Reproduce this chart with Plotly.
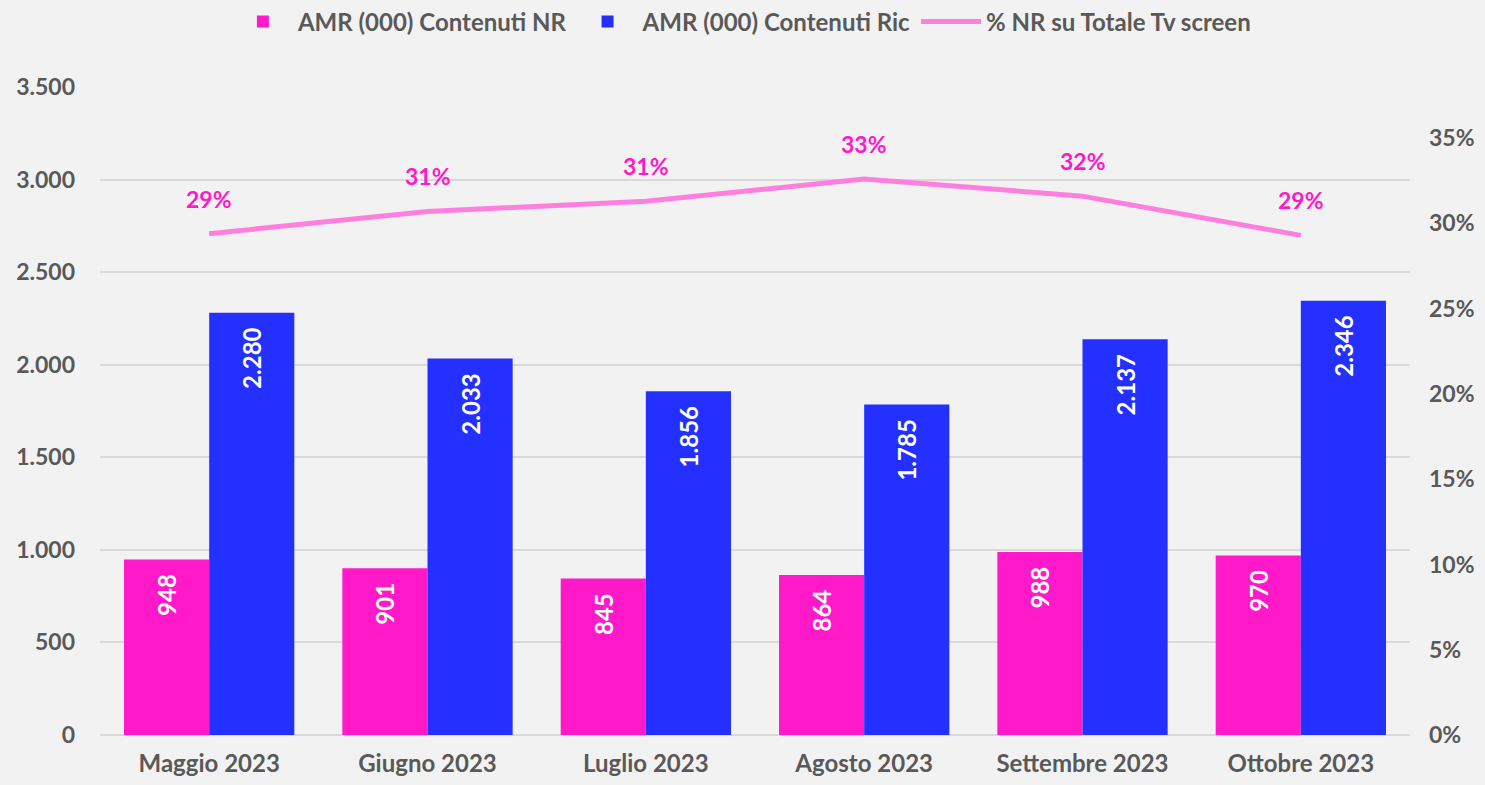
import plotly.graph_objects as go

months = ["Maggio 2023", "Giugno 2023", "Luglio 2023", "Agosto 2023", "Settembre 2023", "Ottobre 2023"]
amr_nr = [948, 901, 845, 864, 988, 970]
amr_ric = [2280, 2033, 1856, 1785, 2137, 2346]
pct_nr = [0.294, 0.307, 0.313, 0.326, 0.316, 0.293]

FONT = "Lato"
GREY = "#595959"
PINK = "#FF19C8"
BLUE = "#2430FF"
LINE = "#FF7FDF"
BG = "#F2F2F2"

fig = go.Figure()
fig.add_trace(go.Bar(
    x=months, y=amr_nr, name="AMR (000) Contenuti NR",
    marker=dict(color=PINK, line=dict(width=0)),
    texttemplate="%{y:,}\u00a0\u00a0", textposition="inside", textangle=-90,
    insidetextanchor="end", constraintext="none",
    textfont=dict(family=FONT, size=24, color="white", weight="bold"),
))
fig.add_trace(go.Bar(
    x=months, y=amr_ric, name="AMR (000) Contenuti Ric",
    marker=dict(color=BLUE, line=dict(width=0)),
    texttemplate="%{y:,}\u00a0\u00a0", textposition="inside", textangle=-90,
    insidetextanchor="end", constraintext="none",
    textfont=dict(family=FONT, size=24, color="white", weight="bold"),
))
fig.add_trace(go.Scatter(
    x=months, y=pct_nr, name="% NR su Totale Tv screen", yaxis="y2",
    mode="lines", line=dict(color=LINE, width=5),
))

for m, p in zip(months, pct_nr):
    fig.add_annotation(
        x=m, y=p, yref="y2", text=f"{p:.0%}", showarrow=False,
        yshift=35, font=dict(family=FONT, size=23, color=PINK, weight="bold"),
    )

fig.update_layout(
    width=1485, height=785,
    paper_bgcolor=BG, plot_bgcolor=BG,
    margin=dict(l=100, r=75, t=87, b=50, autoexpand=False),
    separators=",.",
    barmode="group", bargap=0.22, bargroupgap=0,
    font=dict(family=FONT, size=22, color=GREY),
    showlegend=True,
    legend=dict(orientation="h", x=0.49, xanchor="center", yref="container",
                y=0.972, yanchor="middle",
                font=dict(family=FONT, size=24, color=GREY, weight="bold"),
                bgcolor="rgba(0,0,0,0)", itemwidth=60, tracegroupgap=0),
    xaxis=dict(showgrid=False, showline=False, ticks="", ticklabelstandoff=12,
               tickfont=dict(family=FONT, size=24, color=GREY, weight="bold")),
    yaxis=dict(range=[0, 3500], dtick=500, tickformat=",d",
               showgrid=True, gridcolor="#D9D9D9", gridwidth=2,
               zeroline=True, zerolinecolor="#D9D9D9", zerolinewidth=2,
               ticks="", ticklabelstandoff=24,
               tickfont=dict(family=FONT, size=23, color=GREY, weight="bold")),
    yaxis2=dict(range=[0, 0.38], dtick=0.05, tickformat=".0%", overlaying="y",
                side="right", showgrid=False, zeroline=False, ticks="",
                ticklabelstandoff=18,
                tickfont=dict(family=FONT, size=23, color=GREY, weight="bold")),
)

fig.write_html(
    "out.html",
    config={"displayModeBar": False},
    post_script=f"document.body.style.margin='0';document.body.style.background='{BG}';",
)
